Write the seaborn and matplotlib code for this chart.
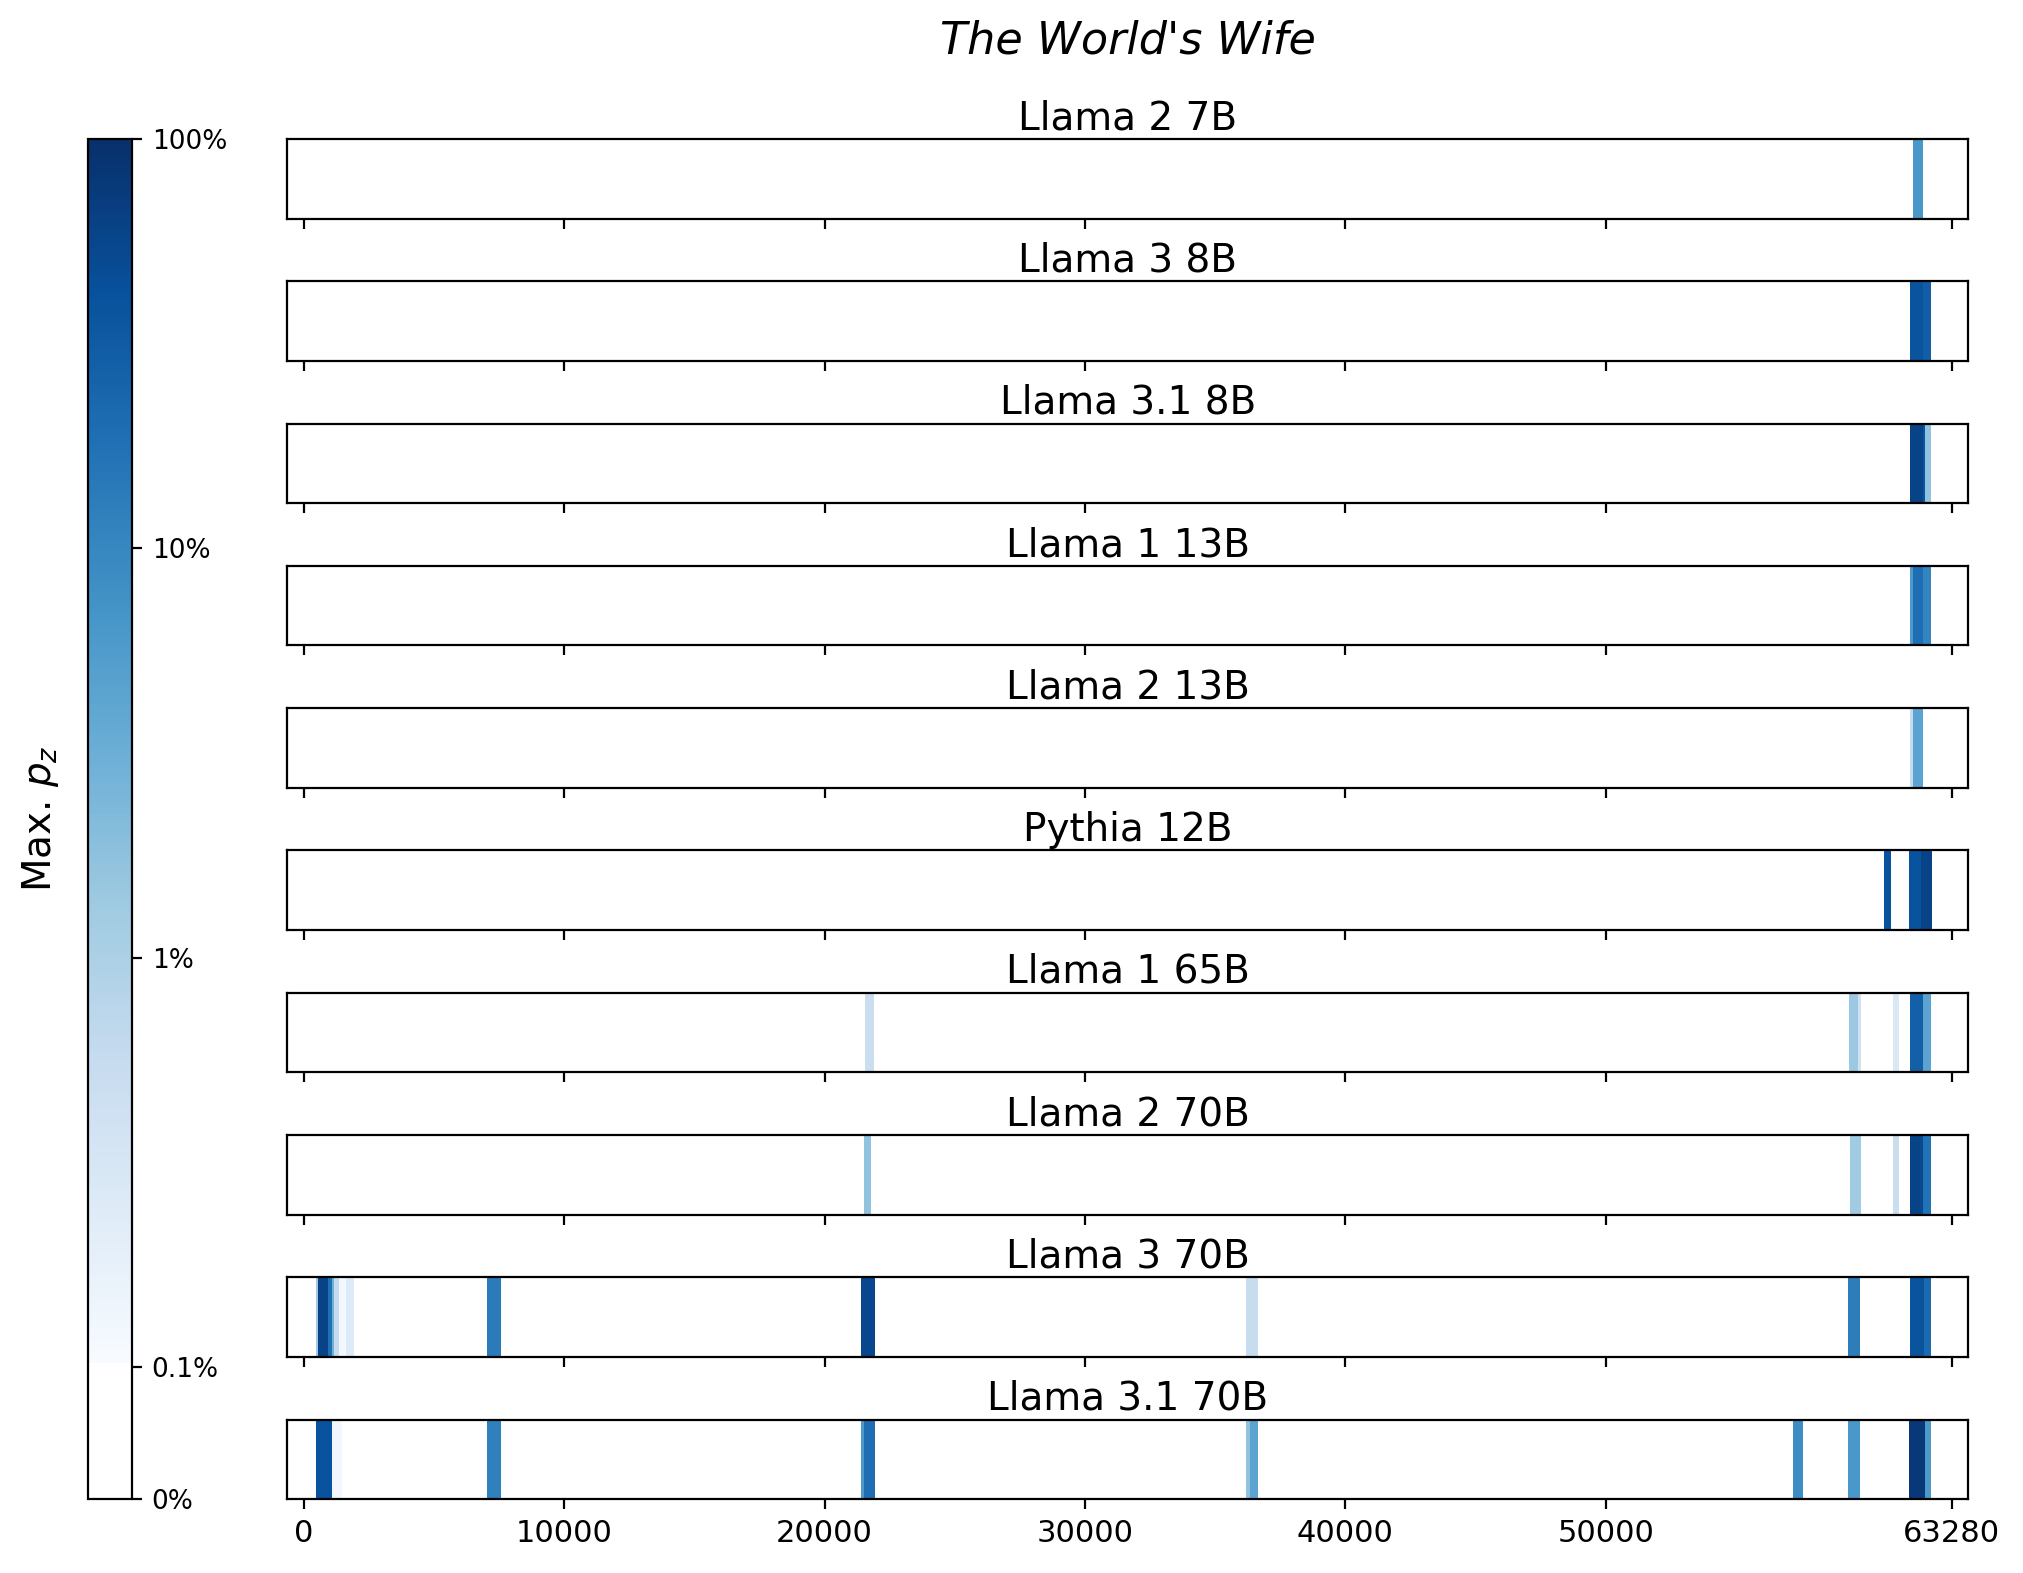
import numpy as np
import matplotlib
matplotlib.use("Agg")
import matplotlib.pyplot as plt
from matplotlib.colors import ListedColormap, SymLogNorm
from matplotlib.cm import ScalarMappable
import seaborn as sb

book = "The World's Wife"
n_tokens = 63280
models = ["Llama 2 7B", "Llama 3 8B", "Llama 3.1 8B", "Llama 1 13B", "Llama 2 13B",
          "Pythia 12B", "Llama 1 65B", "Llama 2 70B", "Llama 3 70B", "Llama 3.1 70B"]

# (start token, end token, max p_z in %)
llama2_7b = [(61784, 62168, 6.3)]
llama3_8b = [(61680, 62168, 38), (62168, 62513, 30)]
llama31_8b = [(61680, 62168, 60), (62168, 62257, 38), (62257, 62513, 1.7)]
llama1_13b = [(61680, 61784, 6), (61784, 62168, 19), (62168, 62513, 11)]
llama2_13b = [(61680, 61784, 0.56), (61784, 62168, 4.5)]
pythia_12b = [(60690, 60978, 40), (61642, 62103, 40), (62103, 62537, 60)]
llama1_65b = [(21563, 21909, 0.5), (59350, 59684, 1.4), (59684, 59788, 0.4),
              (61028, 61258, 0.28), (61692, 62180, 28), (62180, 62513, 4.5)]
llama2_70b = [(21500, 21795, 1.7), (59390, 59788, 1.3), (61028, 61258, 0.5),
              (61692, 62064, 60), (62064, 62180, 50), (62180, 62513, 17)]
llama3_70b = [(488, 564, 1.3), (564, 937, 60), (937, 1090, 18), (1090, 1167, 3),
              (1167, 1370, 0.56), (1370, 1628, 0.12), (1628, 1935, 0.25),
              (7064, 7590, 14), (21410, 21947, 55), (36190, 36640, 0.55),
              (59313, 59762, 13), (61668, 62206, 38), (62206, 62513, 22)]
llama31_70b = [(476, 1090, 40), (1090, 1474, 0.12), (7052, 7590, 12),
               (21410, 21525, 6), (21525, 21947, 19), (36190, 36344, 1.7),
               (36344, 36640, 4.5), (57200, 57585, 8.5), (59313, 59762, 6.3),
               (61642, 62257, 80), (62257, 62513, 6)]
segments = [llama2_7b, llama3_8b, llama31_8b, llama1_13b, llama2_13b,
            pythia_12b, llama1_65b, llama2_70b, llama3_70b, llama31_70b]

xticks = [0, 10000, 20000, 30000, 40000, 50000, 63280]
cbar_ticks = [0, 0.001, 0.01, 0.1, 1]
cbar_labels = ["0%", "0.1%", "1%", "10%", "100%"]

# white below 0.1%, Blues above (log)
blues = plt.get_cmap("Blues")(np.linspace(0, 1, 900))
white = np.ones((100, 4))
cmap = ListedColormap(np.vstack([white, blues]))
norm = SymLogNorm(linthresh=1e-3, linscale=0.29, vmin=0, vmax=1, base=10)

W = 20  # tokens per cell
n_bins = int(np.ceil(n_tokens / W))


def strip(segs):
    row = np.zeros(n_bins)
    for start, end, pct in segs:
        row[start // W:end // W] = pct / 100
    return row.reshape(1, -1)


fig = plt.figure(figsize=(10.12, 7.865), dpi=200)

left, width = 0.1419, 0.8305
top0, pitch, h = 138.9 / 1573, 142.3 / 1573, 79.6 / 1573

for i, (name, segs) in enumerate(zip(models, segments)):
    ax = fig.add_axes([left, 1 - top0 - i * pitch - h, width, h])
    sb.heatmap(strip(segs), ax=ax, cmap=cmap, norm=norm, cbar=False,
               xticklabels=False, yticklabels=False)
    for s in ax.spines.values():
        s.set_visible(True)
        s.set_linewidth(0.8)
        s.set_color("black")
    ax.set_xlim(-630 / W, 63910 / W)
    ax.set_xticks([t / W for t in xticks])
    ax.set_xticklabels([str(t) for t in xticks], fontsize=11)
    ax.tick_params(axis="x", length=3.5, width=0.8, labelbottom=(i == len(models) - 1))
    ax.set_yticks([])
    ax.set_title(name, fontsize=14, pad=3.5)

cax = fig.add_axes([88.3 / 2024, 1 - 1499.4 / 1573, 44 / 2024, (1499.4 - 138.9) / 1573])
cb = fig.colorbar(ScalarMappable(norm=norm, cmap=cmap), cax=cax)
cb.set_ticks(cbar_ticks)
cb.set_ticklabels(cbar_labels)
cb.ax.yaxis.set_minor_locator(matplotlib.ticker.NullLocator())
cb.ax.tick_params(labelsize=9.5)
cb.outline.set_linewidth(0.8)
cb.ax.yaxis.set_label_position("left")
cb.set_label("Max. $p_z$", fontsize=14, labelpad=10)

fig.text(0.5572, 1 - 54 / 1573, book, fontsize=16, style="italic",
         ha="center", va="baseline")

fig.savefig("out.png", dpi=200)
